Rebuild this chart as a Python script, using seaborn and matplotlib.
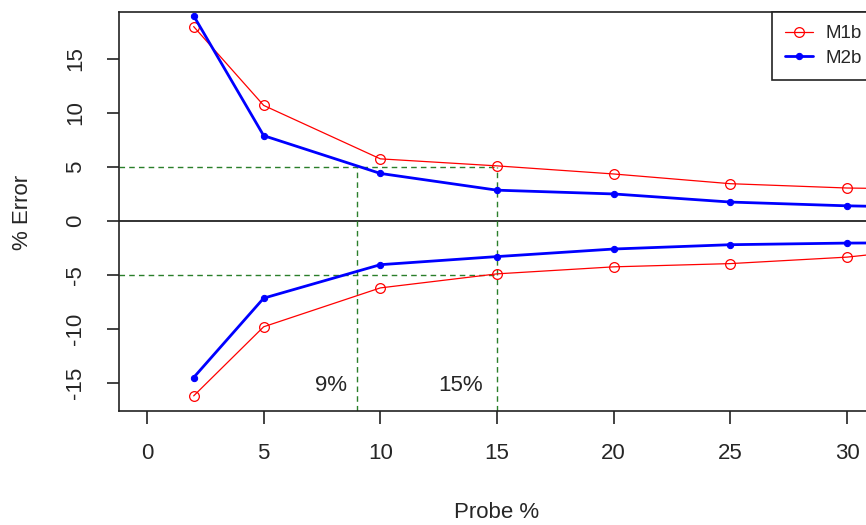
import numpy as np
import pandas as pd
import seaborn as sns
import matplotlib.pyplot as plt

# probe percentages and relative error bounds
probe = [2, 5, 10, 15, 20, 25, 30, 35]
m1b_upper = [18.0, 10.7, 5.75, 5.1, 4.35, 3.45, 3.05, 2.9]
m1b_lower = [-16.2, -9.8, -6.2, -4.9, -4.25, -3.95, -3.35, -2.2]
m2b_upper = [19.0, 7.9, 4.4, 2.85, 2.5, 1.75, 1.4, 1.2]
m2b_lower = [-14.5, -7.15, -4.05, -3.3, -2.6, -2.2, -2.05, -2.0]

cut_x = [9, 15]
cut_labels = ["9%", "15%"]
err_limit = 5

sns.set_style("ticks")
plt.rcParams['font.family'] = ['Liberation Sans', 'DejaVu Sans']
plt.rcParams['axes.unicode_minus'] = False

fig = plt.figure(figsize=(8.66, 5.25), dpi=100)
# plot box: left 119px, right 875px (just past the figure edge), top 12px, bottom 411px
ax = fig.add_axes([119 / 866, (525 - 411) / 525, 756 / 866, 399 / 525])

red = "#FF0000"
blue = "#0000FF"
green = "#2A7F2A"

sns.lineplot(x=probe, y=m1b_upper, color=red, lw=0.9, marker="o", markersize=7,
             markerfacecolor="none", markeredgecolor=red, markeredgewidth=0.9,
             label="M1b", ax=ax)
sns.lineplot(x=probe, y=m1b_lower, color=red, lw=0.9, marker="o", markersize=7,
             markerfacecolor="none", markeredgecolor=red, markeredgewidth=0.9, ax=ax)
sns.lineplot(x=probe, y=m2b_upper, color=blue, lw=2.0, marker="o", markersize=4.5,
             markeredgecolor=blue, label="M2b", ax=ax)
sns.lineplot(x=probe, y=m2b_lower, color=blue, lw=2.0, marker="o", markersize=4.5,
             markeredgecolor=blue, ax=ax)

ax.set_xlim(-1.2, 31.2)
ax.set_ylim(-17.6, 19.35)

# zero line and the +-5% guide lines
ax.axhline(0, color="#222222", lw=1.3, zorder=1)
for yv in [err_limit, -err_limit]:
    ax.plot([-1.2, cut_x[1]], [yv, yv], color=green, lw=1, dashes=(4, 3), zorder=1)
for xv in cut_x:
    ax.plot([xv, xv], [-17.6, err_limit], color=green, lw=1, dashes=(4, 3), zorder=1)
ax.text(7.9, -15.2, cut_labels[0], fontsize=16, ha="center", va="center")
ax.text(13.45, -15.2, cut_labels[1], fontsize=16, ha="center", va="center")

ax.set_xticks([0, 5, 10, 15, 20, 25, 30])
ax.set_yticks([-15, -10, -5, 0, 5, 10, 15])
ax.tick_params(axis="both", length=9, width=1.2, color="#222222", labelsize=16)
ax.tick_params(axis="x", pad=14)
ax.tick_params(axis="y", pad=22)
plt.setp(ax.get_yticklabels(), rotation=90, va="center", ha="center")
for s in ax.spines.values():
    s.set_color("#222222")
    s.set_linewidth(1.2)

ax.set_xlabel("")
ax.set_ylabel("")
fig.text(497 / 866, 1 - 512 / 525, "Probe %", fontsize=16, ha="center", va="center")
fig.text(22 / 866, 1 - 212 / 525, "% Error", fontsize=16, ha="center", va="center",
         rotation=90)

handles, labels = ax.get_legend_handles_labels()
leg = ax.legend(handles, labels, loc="upper right", bbox_to_anchor=(1, 1),
                borderaxespad=0, fancybox=False, frameon=True, fontsize=13.5,
                handlelength=1.5, handletextpad=0.65, labelspacing=0.4,
                borderpad=0.7)
leg.get_frame().set_edgecolor("#222222")
leg.get_frame().set_linewidth(1.2)
leg.get_frame().set_alpha(1)

fig.savefig("out.png", dpi=100)
